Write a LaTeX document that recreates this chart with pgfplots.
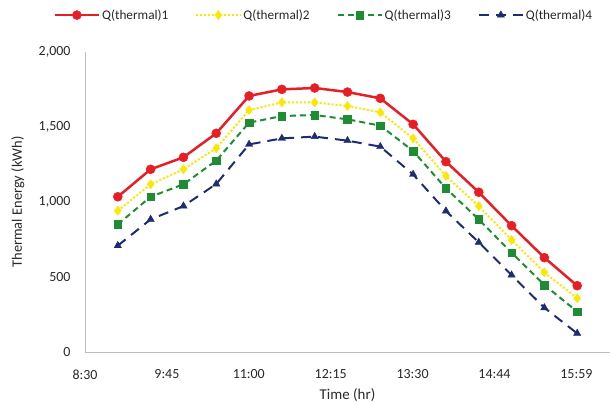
\documentclass[border=0pt]{standalone}
\usepackage{pgfplots}
\pgfplotsset{compat=1.18}
\usepackage{fontspec}
\setmainfont{Carlito}
\definecolor{cred}{RGB}{232,30,37}
\definecolor{cyel}{RGB}{250,232,0}
\definecolor{cgrn}{RGB}{30,140,50}
\definecolor{cblu}{RGB}{30,45,115}
\definecolor{axgray}{RGB}{190,190,190}
\definecolor{txt}{RGB}{40,40,40}
\begin{document}
\begin{tikzpicture}
\useasboundingbox (-85bp,-50bp) rectangle (529bp,352bp);
\begin{axis}[
  at={(0,0)}, anchor=south west,
  scale only axis, width=525bp, height=300bp,
  xmin=8.5, xmax=16.5, ymin=0, ymax=2000,
  axis x line=bottom, axis y line=left,
  axis line style={-, axgray, line width=1pt},
  xtick={8.5,9.748,10.996,12.244,13.492,14.740,15.988},
  xticklabels={8:30,9:45,11:00,12:15,13:30,14:44,15:59},
  ytick={0,500,1000,1500,2000},
  yticklabels={0,500,{1,000},{1,500},{2,000}},
  major tick length=0pt,
  tick label style={font=\fontsize{14}{16}\selectfont, text=txt},
  xticklabel style={yshift=-14bp},
  yticklabel style={xshift=-11bp},
  xlabel={Time (hr)}, ylabel={Thermal Energy (kWh)},
  xlabel style={font=\fontsize{15}{17}\selectfont, text=txt, at={(axis description cs:0.5,0)}, anchor=center, yshift=-43bp},
  ylabel style={font=\fontsize{14.5}{17}\selectfont, text=txt, at={(axis description cs:-0.128,0.5)}, anchor=center},
  legend style={at={(axis description cs:0.455,1.123)}, anchor=center,
    draw=none, fill=none, font=\fontsize{13.3}{16}\selectfont, text=txt,
    /tikz/every even column/.append style={column sep=25bp}},
  legend columns=4,
  legend cell align=left,
  legend image code/.code={
    \draw[mark repeat=2,mark phase=2] plot coordinates {(0bp,0bp)(22bp,0bp)(44bp,0bp)};
  },
]
\addplot[cred, line width=2.5pt, mark=*, mark size=4.5bp, mark options={solid, fill=cred, line width=0.5pt}]
 coordinates {(9.0,1035)(9.5,1218)(10.0,1298)(10.5,1458)(11.0,1707)(11.5,1751)(12.0,1760)(12.5,1733)(13.0,1691)(13.5,1518)(14.0,1269)(14.5,1065)(15.0,842)(15.5,629)(16.0,442)};
\addlegendentry{Q(thermal)1}
\addplot[cyel, line width=2pt, dotted, mark=diamond*, mark size=4.5bp, mark options={solid, fill=cyel, line width=0.5pt}]
 coordinates {(9.0,942)(9.5,1118)(10.0,1218)(10.5,1358)(11.0,1613)(11.5,1664)(12.0,1664)(12.5,1640)(13.0,1598)(13.5,1424)(14.0,1173)(14.5,973)(15.0,747)(15.5,531)(16.0,358)};
\addlegendentry{Q(thermal)2}
\addplot[cgrn, line width=2pt, dash pattern=on 6bp off 4bp, mark=square*, mark size=3.8bp, mark options={solid, fill=cgrn, line width=0.5pt}]
 coordinates {(9.0,851)(9.5,1035)(10.0,1118)(10.5,1276)(11.0,1529)(11.5,1573)(12.0,1580)(12.5,1551)(13.0,1509)(13.5,1340)(14.0,1091)(14.5,884)(15.0,662)(15.5,447)(16.0,269)};
\addlegendentry{Q(thermal)3}
\addplot[cblu, line width=2pt, dash pattern=on 10bp off 7bp, mark=triangle*, mark size=4.2bp, mark options={solid, fill=cblu, line width=0.5pt}]
 coordinates {(9.0,709)(9.5,884)(10.0,973)(10.5,1120)(11.0,1384)(11.5,1424)(12.0,1436)(12.5,1409)(13.0,1369)(13.5,1184)(14.0,940)(14.5,731)(15.0,513)(15.5,295)(16.0,124)};
\addlegendentry{Q(thermal)4}
\end{axis}
\end{tikzpicture}
\end{document}
